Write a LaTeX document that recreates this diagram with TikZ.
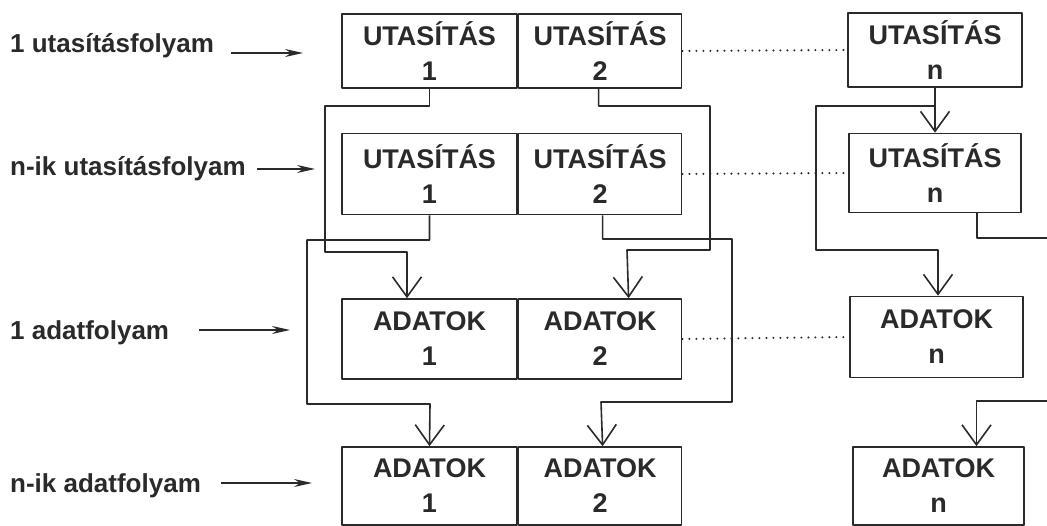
\documentclass[tikz,border=0pt]{standalone}
\usepackage{fontspec}
\setmainfont{Liberation Sans}
\usetikzlibrary{arrows.meta}
\definecolor{ink}{HTML}{2A2A2A}
\tikzset{
  cell/.style={draw=ink, line width=1.6pt, inner sep=0pt, align=center,
    minimum height=78pt, text=ink, font=\fontsize{27}{35}\selectfont\bfseries},
  lab/.style={anchor=base west, inner sep=0pt, text=ink, font=\fontsize{26}{30}\selectfont\bfseries},
  bus/.style={draw=ink, line width=1.6pt, -{Straight Barb[length=20pt,width=29pt]}},
  wire/.style={draw=ink, line width=1.6pt},
  link/.style={draw=ink, line width=2.3pt, line cap=round, dash pattern=on 0pt off 7pt},
  feed/.style={draw=ink, line width=1.4pt, -{Stealth[length=18pt,width=8pt]}}
}
\begin{document}
\begin{tikzpicture}[x=1pt, y=-1pt, line join=round]
  \useasboundingbox (0,0) rectangle (1047,526);
  % stream names on the left
  \node[lab] (l1) at (10,53) {1 utasításfolyam};
  \node[lab] (l2) at (10,176) {n-ik utasításfolyam};
  \node[lab] (l3) at (10,340) {1 adatfolyam};
  \node[lab] (l4) at (10,492) {n-ik adatfolyam};
  \coordinate (e1) at (303,53);  \coordinate (e2) at (315,169);
  \coordinate (e3) at (290,330); \coordinate (e4) at (312,483);
  \draw[feed] ([xshift=17pt]l1.east |- e1) -- (e1);
  \draw[feed] ([xshift=11pt]l2.east |- e2) -- (e2);
  \draw[feed] ([xshift=30pt]l3.east |- e3) -- (e3);
  \draw[feed] ([xshift=20pt]l4.east |- e4) -- (e4);
  % instruction rows
  \node[cell, minimum width=175pt, minimum height=74pt] (u11) at (429.5,51) {UTASÍTÁS\\1};
  \node[cell, minimum width=163pt, minimum height=74pt, anchor=west] (u12) at (u11.east) {UTASÍTÁS\\2};
  \node[cell, minimum width=174pt, minimum height=74pt] (un1) at (935,50) {UTASÍTÁS\\n};
  \node[cell, minimum width=175pt, minimum height=81pt] (u21) at (429.5,174) {UTASÍTÁS\\1};
  \node[cell, minimum width=163pt, minimum height=81pt, anchor=west] (u22) at (u21.east) {UTASÍTÁS\\2};
  \node[cell, minimum width=172pt, minimum height=79pt] (un2) at (935,173) {UTASÍTÁS\\n};
  % data rows
  \node[cell, minimum width=175pt, minimum height=80pt] (a11) at (429.5,339) {ADATOK\\1};
  \node[cell, minimum width=163pt, minimum height=80pt, anchor=west] (a12) at (a11.east) {ADATOK\\2};
  \node[cell, minimum width=173pt, minimum height=81pt] (an1) at (936.5,337) {ADATOK\\n};
  \node[cell, minimum width=175pt] (a21) at (429.5,486) {ADATOK\\1};
  \node[cell, minimum width=163pt, anchor=west] (a22) at (a21.east) {ADATOK\\2};
  \node[cell, minimum width=171pt] (an2) at (938.5,486) {ADATOK\\n};
  % the gap up to the n-th unit
  \draw[link] (u12.east) -- (un1.west);
  \draw[link] (u22.east) -- (un2.west);
  \draw[link] (a12.east) -- (an1.west);
  % instruction streams feeding the data units
  \draw[bus] (u11.south) |- (325,106) |- (407,252) -- ([xshift=-22.5pt]a11.north);
  \draw[bus] ([xshift=-1.5pt]u12.south) |- (710,106) |- (627,250) -- ([xshift=28.5pt]a12.north);
  \draw[bus] (u21.south) |- (307,240) |- (430,404) -- (a21.north);
  \draw[bus] ([xshift=2.5pt]u22.south) |- (732,239) |- (601,402) -- ([xshift=2.5pt]a22.north);
  \draw[bus] (un1.south) -- (un2.north);
  \coordinate (j1) at ([yshift=-18pt]un1.south);
  \draw[bus] (j1) -| (816,250) -| ([xshift=1.5pt]an1.north);
  % lines running off the right edge
  \coordinate (o1) at (1050,238);
  \coordinate (o2) at (1050,401);
  \draw[wire] ([xshift=42pt]un2.south) |- (o1);
  \draw[bus] (o2) -| ([xshift=38pt]an2.north);
\end{tikzpicture}
\end{document}
